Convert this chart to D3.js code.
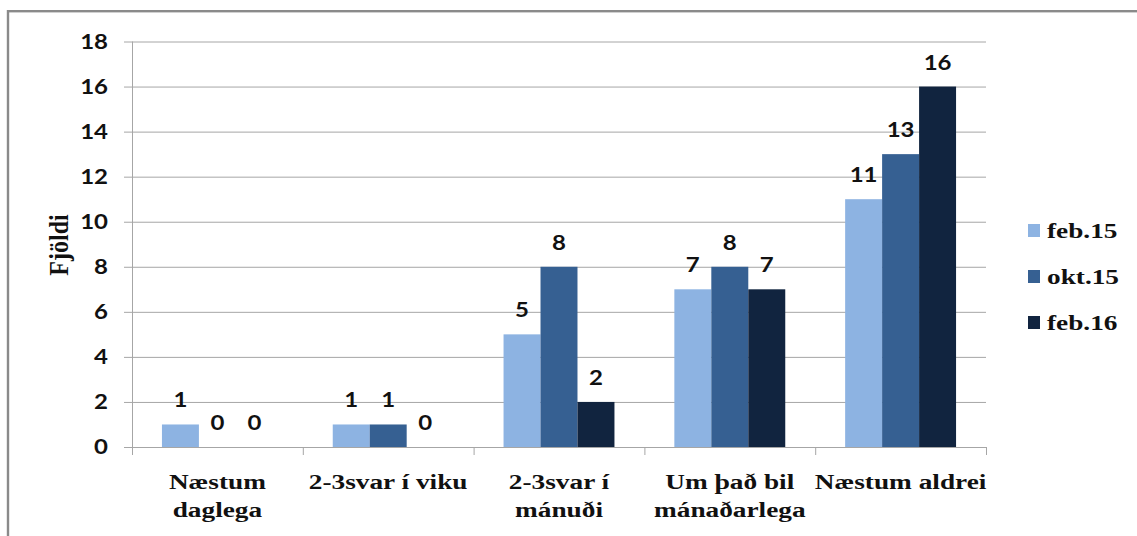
<!DOCTYPE html>
<html>
<head>
<meta charset="utf-8">
<script src="https://cdn.jsdelivr.net/npm/d3@7"></script>
<style>
  html, body { margin: 0; padding: 0; background: #fff; }
  svg { display: block; }
</style>
</head>
<body>
<svg id="chart" width="1137" height="536"></svg>
<script>
// Survey answers: how often, counted per survey round
const categories = [["Næstum", "daglega"], ["2-3svar í viku"], ["2-3svar í", "mánuði"], ["Um það bil", "mánaðarlega"], ["Næstum aldrei"]];
const seriesNames = ["feb.15", "okt.15", "feb.16"];
const feb15 = [1, 1, 5, 7, 11];
const okt15 = [0, 1, 8, 8, 13];
const feb16 = [0, 0, 2, 7, 16];
const seriesValues = [feb15, okt15, feb16];
const seriesColors = ["#8db3e2", "#366092", "#11243f"];
const yTicks = [0, 2, 4, 6, 8, 10, 12, 14, 16, 18];
const yTitle = "Fjöldi";

const svg = d3.select("#chart");
const W = 1137, H = 536;
const plot = { left: 132, right: 986, top: 41.5, bottom: 447 };

const sansFont = "Lato, 'Open Sans', sans-serif";
const serifFont = "'Liberation Serif', 'Times New Roman', serif";
const sansStretch = 1.2, serifStretch = 1.3;

// outer frame
svg.append("rect")
  .attr("x", 8).attr("y", 11.2)
  .attr("width", W + 20).attr("height", H + 20)
  .attr("fill", "#fff").attr("stroke", "#8a8a8a").attr("stroke-width", 2.4);

const catKeys = categories.map(c => c.join(" "));
const x = d3.scaleBand().domain(catKeys).range([plot.left, plot.right]).paddingInner(0).paddingOuter(0);
const xs = d3.scaleBand().domain(seriesNames).range([0, x.bandwidth()]).paddingInner(0).paddingOuter(0.81);
const y = d3.scaleLinear().domain([0, 18]).range([plot.bottom, plot.top]);

// horizontal gridlines with left tick marks
const yAxis = d3.axisLeft(y).tickValues(yTicks).tickSize(-(plot.right - plot.left)).tickFormat("").tickSizeOuter(0);
const gy = svg.append("g").attr("transform", `translate(${plot.left},0)`).call(yAxis);
gy.select(".domain").attr("stroke", "#a6a6a6").attr("d", `M0.5,${plot.top}V${plot.bottom}`);
gy.selectAll(".tick line").attr("stroke", "#a6a6a6").attr("x1", -8);

// y tick labels
svg.append("g").selectAll("text").data(yTicks).join("text")
  .attr("transform", d => `translate(108,${y(d)}) scale(${sansStretch},1)`)
  .attr("text-anchor", "end").attr("dy", "0.36em")
  .attr("font-family", sansFont).attr("font-weight", "bold").attr("font-size", 20)
  .attr("fill", "#111").text(d => d);

// category axis with tick marks between groups
const xAxis = d3.axisBottom(x).tickSize(0).tickFormat("");
const gx = svg.append("g").attr("transform", `translate(0,${plot.bottom})`).call(xAxis);
gx.select(".domain").attr("stroke", "#a6a6a6").attr("d", `M${plot.left},0.5H${plot.right}`);
gx.selectAll(".tick").remove();
const boundaries = catKeys.map(k => x(k)).concat([x(catKeys[catKeys.length - 1]) + x.bandwidth()]);
gx.selectAll("line.sep").data(boundaries).join("line").attr("class", "sep")
  .attr("x1", d => d + 0.5).attr("x2", d => d + 0.5).attr("y1", 0).attr("y2", 8)
  .attr("stroke", "#a6a6a6");

// bars
const groups = svg.append("g").selectAll("g").data(categories).join("g")
  .attr("transform", d => `translate(${x(d.join(" "))},0)`);
groups.each(function (cat, ci) {
  const g = d3.select(this);
  seriesNames.forEach((s, si) => {
    const v = seriesValues[si][ci];
    g.append("rect")
      .attr("x", xs(s)).attr("width", xs.bandwidth())
      .attr("y", y(v)).attr("height", y(0) - y(v))
      .attr("fill", seriesColors[si]);
    g.append("text")
      .attr("transform", `translate(${xs(s) + xs.bandwidth() / 2},${y(v) - 17}) scale(${sansStretch},1)`)
      .attr("text-anchor", "middle")
      .attr("font-family", sansFont).attr("font-weight", "bold").attr("font-size", 20)
      .attr("fill", "#111").text(v);
  });
  // category label lines
  cat.forEach((line, li) => {
    g.append("text")
      .attr("transform", `translate(${x.bandwidth() / 2},${489 + li * 28}) scale(${serifStretch},1)`)
      .attr("text-anchor", "middle")
      .attr("font-family", serifFont).attr("font-weight", "bold").attr("font-size", 21)
      .attr("fill", "#111").text(line);
  });
});

// y axis title
svg.append("text")
  .attr("transform", `translate(68,245) scale(1.15,1) rotate(-90)`)
  .attr("text-anchor", "middle")
  .attr("font-family", serifFont).attr("font-weight", "bold").attr("font-size", 24)
  .attr("fill", "#111").text(yTitle);

// legend
const legend = svg.append("g").selectAll("g").data(seriesNames).join("g")
  .attr("transform", (d, i) => `translate(1028,${224 + i * 46})`);
legend.append("rect").attr("width", 12).attr("height", 13)
  .attr("fill", (d, i) => seriesColors[i]);
legend.append("text")
  .attr("transform", `translate(19,14) scale(${serifStretch},1)`)
  .attr("font-family", serifFont).attr("font-weight", "bold").attr("font-size", 21)
  .attr("fill", "#111").text(d => d);
</script>
</body>
</html>
